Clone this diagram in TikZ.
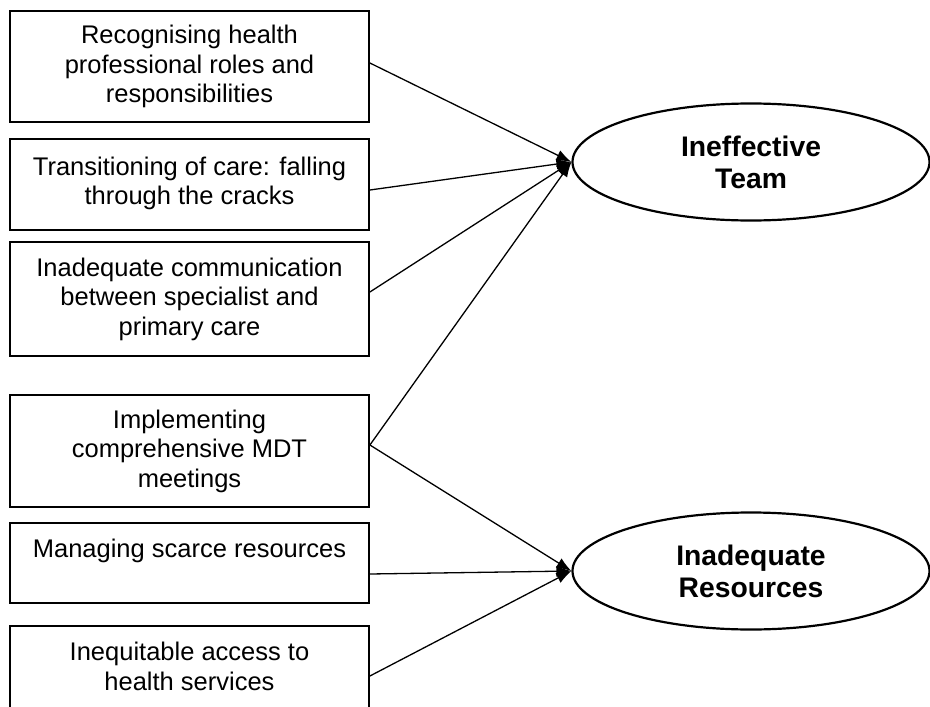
\documentclass[tikz,border=0pt]{standalone}
\usepackage{fontspec}
\setmainfont{Liberation Sans}
\usetikzlibrary{shapes.geometric,arrows.meta}
\begin{document}
\begin{tikzpicture}[x=1pt,y=-1pt,
  causebox/.style={draw, line width=1.8pt, minimum width=359pt, inner sep=0pt, align=center,
    font=\fontsize{25.5}{29.5}\selectfont},
  theme/.style={draw, ellipse, line width=2.2pt, minimum width=357pt, minimum height=117pt, inner sep=0pt,
    align=center, font=\fontsize{28.3}{32}\selectfont\bfseries},
  link/.style={line width=1.3pt, -{Latex[length=15pt,width=11pt]}}]
\useasboundingbox (0,0) rectangle (930,707);
\node[causebox, minimum height=111pt] (b1) at (189.5,66.5) {Recognising health\\professional roles and\\responsibilities};
\node[causebox, minimum height=91pt] (b2) at (189.5,184.5) {Transitioning of care: falling\\through the cracks\\[-22.5pt]~};
\node[causebox, minimum height=114pt] (b3) at (189.5,299) {Inadequate communication\\between specialist and\\primary care};
\node[causebox, minimum height=112pt] (b4) at (189.5,451) {Implementing\\comprehensive MDT\\meetings};
\node[causebox, minimum height=80pt] (b5) at (189.5,563) {Managing scarce resources\\~};
\node[causebox, minimum height=100pt] (b6) at (189.5,676) {Inequitable access to\\health services\\[-10.5pt]~};
\node[theme] (e1) at (751,162) {Ineffective\\Team};
\node[theme] (e2) at (751,571) {Inadequate\\Resources};
\draw[link] ([yshift=3.5pt]b1.east) -- (e1.west);
\draw[link] ([yshift=-5.5pt]b2.east) -- (e1.west);
\draw[link] ([yshift=7pt]b3.east) -- (e1.west);
\draw[link] ([yshift=6pt]b4.east) -- (e1.west);
\draw[link] ([yshift=6pt]b4.east) -- (e2.west);
\draw[link] ([yshift=-11pt]b5.east) -- (e2.west);
\draw[link] (b6.east) -- (e2.west);
\end{tikzpicture}
\end{document}
